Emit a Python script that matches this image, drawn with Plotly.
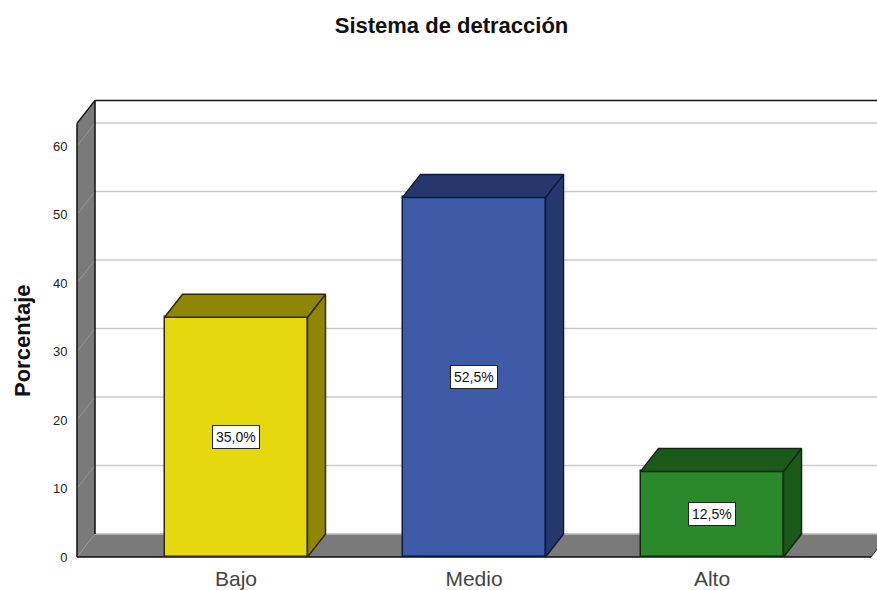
import plotly.graph_objects as go

categories = ["Bajo", "Medio", "Alto"]
values = [35.0, 52.5, 12.5]
labels = ["35,0%", "52,5%", "12,5%"]
front_colors = ["#e6d80f", "#3f5aa6", "#2b882b"]
dark_colors = ["#8f8606", "#26386b", "#1b5a1b"]
edge_colors = ["#2e2a05", "#0d1a40", "#0c2a0c"]
y_ticks = [0, 10, 20, 30, 40, 50, 60]

W, H = 877, 590
PX_X, PX_Y = 238.0, 6.85          # pixels per category / per percent
ORIGIN_X, ORIGIN_Y = 236.0, 557.0  # pixel position of category 0 / value 0
L, R, T, B = 75, 877, 99, 559
DX, DY = 18 / PX_X, 23 / PX_Y     # depth of the 3D effect in axis units
BAR_W = 143 / PX_X
X0 = (77 - ORIGIN_X) / PX_X       # front left edge of the frame
X1 = (871 - ORIGIN_X) / PX_X      # front right edge of the floor
YTOP = 63.3
x_range = [(L - ORIGIN_X) / PX_X, (R - ORIGIN_X) / PX_X]
y_range = [(ORIGIN_Y - B) / PX_Y, (ORIGIN_Y - T) / PX_Y]


def poly(points, fill, line=None, width=1, layer="below"):
    path = "M " + " L ".join(f"{x},{y}" for x, y in points) + " Z"
    return dict(type="path", path=path, xref="x", yref="y", layer=layer, fillcolor=fill,
                line=dict(color=line or "rgba(0,0,0,0)", width=width if line else 0))


def seg(x0, y0, x1, y1, color, width=1):
    return dict(type="line", x0=x0, y0=y0, x1=x1, y1=y1, xref="x", yref="y", layer="below",
                line=dict(color=color, width=width))


shapes = []
for t in y_ticks:
    shapes.append(seg(X0 + DX, t + DY, x_range[1] + 1, t + DY, "#c9c9c9", 1.5))
shapes.append(poly([(X0, 0), (X0, YTOP), (X0 + DX, YTOP + DY), (X0 + DX, DY)], "#7a7a7a"))
shapes.append(poly([(X0, 0), (X1, 0), (X1 + DX, DY), (X0 + DX, DY)], "#7a7a7a"))
for t in y_ticks:
    shapes.append(seg(X0, t, X0 + DX, t + DY, "#969696", 1))
shapes.append(seg(X0 + DX, DY, x_range[1] + 1, DY, "#c0c0c0", 1.5))
shapes.append(seg(X0, 0, X0, YTOP, "#111111", 1.5))
shapes.append(seg(X0, YTOP, X0 + DX, YTOP + DY, "#111111", 1.5))
shapes.append(seg(X0 + DX, DY, X0 + DX, YTOP + DY, "#111111", 1.5))
shapes.append(seg(X0 + DX, YTOP + DY, x_range[1] + 1, YTOP + DY, "#111111", 1.5))
shapes.append(seg(X0, 0, X1, 0, "#111111", 1.5))
shapes.append(seg(X1, 0, X1 + DX, DY, "#222222", 1))

xpos = list(range(len(categories)))
fig = go.Figure()
fig.add_trace(go.Bar(
    x=xpos, y=values, width=BAR_W,
    marker=dict(color=front_colors, line=dict(color=edge_colors, width=1.5)),
    showlegend=False, hoverinfo="skip",
))

for x, v, d, e in zip(xpos, values, dark_colors, edge_colors):
    xl, xr = x - BAR_W / 2, x + BAR_W / 2
    top = dict(x=[xl, xr, xr + DX, xl + DX, xl], y=[v, v, v + DY, v + DY, v])
    side = dict(x=[xr, xr + DX, xr + DX, xr, xr], y=[0, DY, v + DY, v, 0])
    for face in (side, top):
        fig.add_trace(go.Scatter(
            **face, mode="lines", fill="toself", fillcolor=d,
            line=dict(color=e, width=1.5), showlegend=False, hoverinfo="skip",
        ))

annotations = [
    dict(x=x, y=v / 2, text=t, showarrow=False, xref="x", yref="y",
         font=dict(family="Liberation Sans", size=14, color="#111111"),
         bgcolor="white", bordercolor="#222222", borderwidth=1, borderpad=3)
    for x, v, t in zip(xpos, values, labels)
]
annotations.append(dict(
    text="<b>Porcentaje</b>", textangle=-90, showarrow=False,
    xref="paper", yref="paper", x=(22 - L) / (R - L), y=(B - 340) / (B - T),
    xanchor="center", yanchor="middle",
    font=dict(family="Liberation Sans", size=22, color="#111111"),
))

fig.update_layout(
    width=W, height=H, autosize=False,
    margin=dict(l=L, r=W - R, t=T, b=H - B, pad=0),
    paper_bgcolor="white", plot_bgcolor="white",
    font=dict(family="Liberation Sans", color="#111111"),
    title=dict(text="<b>Sistema de detracción</b>", x=451.5 / W, xanchor="center",
               y=1 - 25 / H, yanchor="middle", font=dict(size=22, color="#111111")),
    xaxis=dict(range=x_range, tickmode="array", tickvals=xpos, ticktext=categories,
               showgrid=False, zeroline=False, showline=False, automargin=False,
               ticks="outside", ticklen=1, tickcolor="rgba(0,0,0,0)",
               tickfont=dict(size=21, color="#444444")),
    yaxis=dict(range=y_range, tickmode="array", tickvals=y_ticks,
               showgrid=False, zeroline=False, showline=False, automargin=False,
               ticks="outside", ticklen=4, tickcolor="rgba(0,0,0,0)",
               tickfont=dict(size=13, color="#222222")),
    shapes=shapes, annotations=annotations, showlegend=False, bargap=0,
)
fig.write_html("out.html", config={"displayModeBar": False},
               post_script="document.body.style.margin='0';")
